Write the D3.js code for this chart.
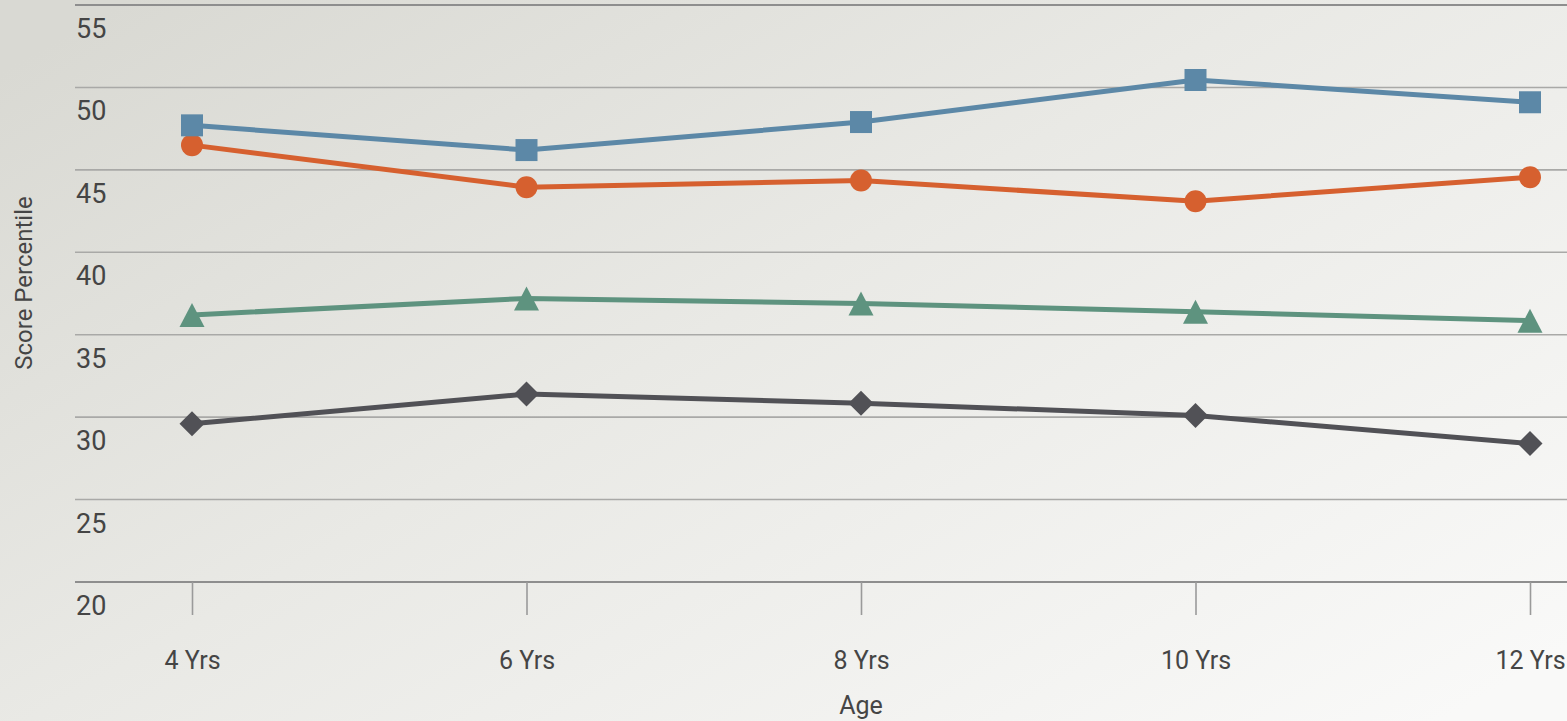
<!DOCTYPE html>
<html>
<head>
<meta charset="utf-8">
<script src="https://cdn.jsdelivr.net/npm/d3@7"></script>
<style>
  html, body { margin: 0; padding: 0; overflow: hidden; }
  svg { display: block; }
  text { font-family: Roboto, "Liberation Sans", sans-serif; fill: #454545; }
</style>
</head>
<body>
<script>
// Age groups along the x axis
const ages = ["4 Yrs", "6 Yrs", "8 Yrs", "10 Yrs", "12 Yrs"];
// Y axis ticks
const yTicks = [20, 25, 30, 35, 40, 45, 50, 55];

// Score percentile per series
const blueValues   = [47.7, 46.2, 47.9, 50.45, 49.1];
const orangeValues = [46.5, 43.95, 44.35, 43.1, 44.55];
const greenValues  = [36.2, 37.2, 36.9, 36.4, 35.85];
const darkValues   = [29.6, 31.4, 30.85, 30.1, 28.4];

const seriesList = [
  { name: "dark",   values: darkValues,   color: "#515156", shape: "diamond" },
  { name: "green",  values: greenValues,  color: "#5e937f", shape: "triangle" },
  { name: "orange", values: orangeValues, color: "#d6602f", shape: "circle" },
  { name: "blue",   values: blueValues,   color: "#5c88a7", shape: "square" }
];

const W = 1567, H = 721;
const svg = d3.select("body").append("svg").attr("width", W).attr("height", H);

// soft grey-to-white background wash
const defs = svg.append("defs");
const grad = defs.append("linearGradient").attr("id", "bg")
  .attr("x1", "0%").attr("y1", "10%").attr("x2", "100%").attr("y2", "90%");
grad.append("stop").attr("offset", "0%").attr("stop-color", "#d9d9d3");
grad.append("stop").attr("offset", "45%").attr("stop-color", "#e9e9e5");
grad.append("stop").attr("offset", "100%").attr("stop-color", "#f9f9f8");
svg.append("rect").attr("width", W).attr("height", H).attr("fill", "url(#bg)");

const x = d3.scalePoint().domain(ages).range([192, 1530]);
const y = d3.scaleLinear().domain([20, 55]).range([582, 5]);

// horizontal gridlines
const gridLeft = 75, gridRight = W;
svg.append("g").selectAll("line").data(yTicks).join("line")
  .attr("x1", gridLeft).attr("x2", gridRight)
  .attr("y1", d => y(d)).attr("y2", d => y(d))
  .attr("stroke", d => (d === 20 || d === 55) ? "#8e8e8e" : "#a9a9a7")
  .attr("stroke-width", d => (d === 20 || d === 55) ? 2 : 1.6);

// y tick labels sit just under their gridline
svg.append("g").selectAll("text").data(yTicks).join("text")
  .attr("x", 76).attr("y", d => y(d) + 33)
  .attr("font-size", 27)
  .text(d => d);

// x axis ticks and labels
const xAxis = d3.axisBottom(x).tickSize(33).tickPadding(0);
const gx = svg.append("g").attr("transform", `translate(0,${y(20)})`).call(xAxis);
gx.select(".domain").remove();
gx.selectAll(".tick line").attr("stroke", "#9a9a9a").attr("stroke-width", 1.6);
gx.selectAll(".tick text")
  .attr("y", 87).attr("dy", 0)
  .attr("font-size", 25)
  .attr("fill", "#454545")
  .style("font-family", "Roboto, 'Liberation Sans', sans-serif");

// axis titles
svg.append("text")
  .attr("transform", "translate(32,283) rotate(-90)")
  .attr("text-anchor", "middle")
  .attr("font-size", 24)
  .text("Score Percentile");

svg.append("text")
  .attr("x", 861).attr("y", 714)
  .attr("text-anchor", "middle")
  .attr("font-size", 25)
  .text("Age");

// lines and markers
const line = d3.line().x((d, i) => x(ages[i])).y(d => y(d));

function markerPath(shape) {
  switch (shape) {
    case "square":   return "M-11,-11H11V11H-11Z";
    case "circle":   return d3.arc()({ innerRadius: 0, outerRadius: 11, startAngle: 0, endAngle: 2 * Math.PI });
    case "triangle": return "M0,-12L12.5,12L-12.5,12Z";
    case "diamond":  return "M0,-12.5L12.5,0L0,12.5L-12.5,0Z";
  }
}

const seriesG = svg.append("g").selectAll("g").data(seriesList).join("g");

seriesG.append("path")
  .attr("d", s => line(s.values))
  .attr("fill", "none")
  .attr("stroke", s => s.color)
  .attr("stroke-width", 5)
  .attr("stroke-linejoin", "round");

seriesG.each(function (s) {
  d3.select(this).selectAll("path.marker").data(s.values).join("path")
    .attr("class", "marker")
    .attr("transform", (d, i) => `translate(${x(ages[i])},${y(d)})`)
    .attr("d", markerPath(s.shape))
    .attr("fill", s.color);
});
</script>
</body>
</html>
